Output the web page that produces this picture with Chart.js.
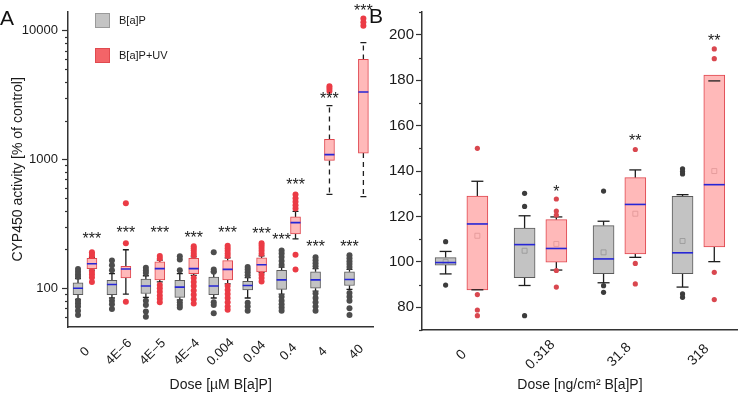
<!DOCTYPE html>
<html><head><meta charset="utf-8">
<script src="https://cdn.jsdelivr.net/npm/chart.js@4.4.1/dist/chart.umd.min.js"></script>
<style>
html,body{margin:0;padding:0;background:#fff;}
#wrap{position:relative;width:750px;height:395px;overflow:hidden;font-family:"Liberation Sans",Arial,sans-serif;}
#ca{position:absolute;left:0;top:0;width:380px;height:395px;}
#cb{position:absolute;left:378px;top:0;width:372px;height:395px;}
.lt{position:absolute;font-size:21px;color:#111;line-height:1;}
</style></head>
<body><div id="wrap">
<div id="ca"><canvas id="chartA"></canvas></div>
<div id="cb"><canvas id="chartB"></canvas></div>
<div class="lt" style="left:0px;top:7px">A</div>
<div class="lt" style="left:369px;top:5px">B</div>
</div>
<script>
// ---------- Panel A data (log scale) ----------
const catA = ['0','4E\u22126','4E\u22125','4E\u22124','0.004','0.04','0.4','4','40'];
const tickLabelsA = [100, 1000, 10000];
const grayQ1A  = [89, 89, 91, 85, 89, 97, 98, 100, 105];
const grayMedA = [100, 107, 104, 102, 104, 105, 116, 116, 117];
const grayQ3A  = [110, 115, 118, 115, 122, 113, 138, 134, 134];
const grayLoA  = [82, 84, 85, 81, 84, 84, 90, 95, 98];
const grayHiA  = [119, 130, 125, 130, 134, 121, 146, 142, 140];
const grayOutA = [
  [123,128,134,141,80,76,72,67,62],
  [138,151,164,80,75,69],
  [131,137,144,80,74,66,60],
  [138,167,177,78,74,71],
  [134,140,190,78,74,64],
  [126,133,140,146,77,72,67],
  [152,163,175,186,196,86,80,75,71,67],
  [148,156,165,174,91,84,78,72,67],
  [146,154,162,171,180,92,86,80,70,62]
];
const redQ1A  = [142, 120, 116, 130, 116, 134, 264, 983, 1120];
const redMedA = [155, 141, 142, 142, 140, 152, 323, 1090, 3340];
const redQ3A  = [171, 148, 160, 171, 164, 172, 358, 1430, 5980];
const redLoA  = [138, 90, 112, 126, 108, 132, 242, 536, 515];
const redHiA  = [174, 199, 165, 175, 172, 178, 395, 2620, 8080];
const redOutA = [
  [178,184,190,134,128,121,112],
  [223,457,78.5],
  [170,178,106,100,94,88,83,78],
  [180,188,196,204,212,120,112,104,96,89,82,76],
  [178,186,195,204,214,104,97,90,84,78,72,68],
  [185,195,205,215,223,127,120,113],
  [415,440,470,500,535,182,140],
  [3400,3550,3700],
  [10900,11600,12400]
];
const starGrayA = [null,null,null,null,null,null,230,203,203];
const starRedA  = [233,259,259,238,259,255,616,2820,13600];

// ---------- Panel B data (linear) ----------
const catB = ['0','0.318','31.8','318'];
const tickLabelsB = [80,100,120,140,160,180,200];
const grayQ1B   = [98.6, 93.1, 94.8, 94.8];
const grayMedB  = [99.7, 107.6, 101.3, 104.0];
const grayQ3B   = [101.9, 114.9, 116.0, 128.9];
const grayMeanB = [100.0, 104.9, 104.2, 109.2];
const grayLoB   = [94.7, 89.6, 90.8, 88.9];
const grayHiB   = [104.6, 120.3, 117.9, 129.6];
const grayOutB  = [[108.9,89.8],[130.2,124.4,76.3],[131.2,89.5,86.6],[141.0,139.8,138.7,85.9,84.4]];
const redQ1B    = [87.7, 99.9, 103.5, 106.6];
const redMedB   = [116.7, 105.9, 125.3, 134.0];
const redQ3B    = [129.0, 118.6, 137.1, 182.3];
const redMeanB  = [111.5, 107.9, 121.2, 140.0];
const redLoB    = [87.7, 96.4, 102.0, 100.1];
const redHiB    = [135.5, 119.8, 140.5, 179.7];
const redOutB   = [[150.0,85.6,78.8,76.3],[127.7,122.4,120.6,96.2,88.9],[149.5,99.3,90.3],[193.8,189.5,95.4,83.4]];
const starRedB  = [null,129.9,152.2,196.4];
const starTextB = ['','*','**','**'];

// ---------- helpers ----------
const FF = '"Liberation Sans", Arial, sans-serif';
const INK = '#1a1a1a';
const MED = '#2626d6';

function groupSets(s, sign, st) {
  const xi = i => i + sign * st.off;
  const sets = [];
  sets.push({type:'bar', label:s.label, xAxisID:'xs', grouped:false, barThickness:st.barW,
    data:s.q1.map((v,i)=>({x:xi(i), y:[v, s.q3[i]]})),
    backgroundColor:s.fill, borderColor:s.edge, borderWidth:1, borderSkipped:false,
    order:5, legendColor:s.legend, legendEdge:s.legendEdge});
  const solid = [], dashed = [];
  s.q1.forEach((v,i)=>{
    const arr = (s.dashed && s.dashed.includes(i)) ? dashed : solid;
    arr.push({x:xi(i),y:s.q3[i]},{x:xi(i),y:s.hi[i]},{x:xi(i),y:null},
             {x:xi(i),y:v},{x:xi(i),y:s.lo[i]},{x:xi(i),y:null});
  });
  sets.push({type:'line', xAxisID:'xs', data:solid, borderColor:'#1e1e1e', borderWidth:st.whW,
    pointRadius:0, spanGaps:false, fill:false, order:6});
  if (dashed.length) sets.push({type:'line', xAxisID:'xs', data:dashed, borderColor:'#1e1e1e', borderWidth:st.whW,
    borderDash:[5,4], pointRadius:0, spanGaps:false, fill:false, order:6});
  sets.push({type:'scatter', xAxisID:'xs',
    data:s.lo.flatMap((v,i)=>[{x:xi(i),y:v},{x:xi(i),y:s.hi[i]}]),
    pointStyle:'line', pointRadius:st.capR, pointBorderColor:'#1e1e1e', pointBorderWidth:st.whW, order:4});
  sets.push({type:'scatter', xAxisID:'xs',
    data:s.out.flatMap((a,i)=>a.map(v=>({x:xi(i),y:v}))),
    pointStyle:'circle', pointRadius:st.outR, pointBackgroundColor:s.dot, pointBorderColor:s.dot, pointBorderWidth:0, order:3});
  if (s.mean) sets.push({type:'scatter', xAxisID:'xs',
    data:s.mean.map((v,i)=>({x:xi(i),y:v})),
    pointStyle:'rect', pointRadius:3.5, pointBackgroundColor:'rgba(0,0,0,0)', pointBorderColor:s.meanCol, pointBorderWidth:0.9, order:2});
  sets.push({type:'scatter', xAxisID:'xs',
    data:s.med.map((v,i)=>({x:xi(i),y:v})),
    pointStyle:'line', pointRadius:st.medR, pointBorderColor:MED, pointBorderWidth:1.6, order:1});
  return sets;
}

const decor = {
  id:'decor',
  afterDraw(chart, args, o) {
    const ctx = chart.ctx, xs = chart.scales.xs, y = chart.scales.y;
    ctx.save();
    // minor ticks
    ctx.strokeStyle = '#333'; ctx.lineWidth = 1.2;
    y.ticks.forEach(t=>{
      if (o.majors.includes(t.value)) return;
      const py = Math.round(y.getPixelForValue(t.value)) + 0.5;
      ctx.beginPath(); ctx.moveTo(chart.chartArea.left - o.minorLen, py); ctx.lineTo(chart.chartArea.left, py); ctx.stroke();
    });
    // rotated category labels
    ctx.fillStyle = INK; ctx.font = o.labelFont; ctx.textAlign = 'center'; ctx.textBaseline = 'middle';
    chart.data.labels.forEach((lab,i)=>{
      const px = xs.getPixelForValue(i);
      ctx.save(); ctx.translate(px, chart.chartArea.bottom + o.labelDy); ctx.rotate(-Math.PI/4);
      ctx.fillText(lab, 0, 0); ctx.restore();
    });
    // significance stars
    ctx.font = o.starFont; ctx.textBaseline = 'alphabetic'; ctx.fillStyle = '#222';
    o.stars.forEach(s=>s.vals.forEach((v,i)=>{
      if (v == null) return;
      const txt = s.text ? s.text[i] : '***';
      ctx.fillText(txt, xs.getPixelForValue(i + s.off), y.getPixelForValue(v) + o.starDy);
    }));
    // legend
    if (o.legend) {
      const bars = chart.data.datasets.filter(d=>d.type==='bar');
      bars.forEach((d,k)=>{
        const bx = o.legend.x, by = o.legend.y + k*o.legend.gap;
        ctx.fillStyle = d.legendColor; ctx.fillRect(bx, by, 15, 15);
        ctx.strokeStyle = d.legendEdge; ctx.lineWidth = 1; ctx.strokeRect(bx+0.5, by+0.5, 14, 14);
        ctx.fillStyle = INK; ctx.font = o.legend.font; ctx.textAlign = 'left'; ctx.textBaseline = 'middle';
        ctx.fillText(d.label, bx + 24, by + 8);
      });
    }
    ctx.restore();
  }
};

// ---------- Chart A ----------
const offA = 0.205;
const stA = {off:offA, barW:10, whW:1.3, capR:3, outR:3, medR:5};
const grayA = {label:'B[a]P', q1:grayQ1A, med:grayMedA, q3:grayQ3A, lo:grayLoA, hi:grayHiA, out:grayOutA,
  fill:'#c3c3c3', edge:'#5a5a5a', dot:'#4d4d4d', legend:'#c4c4c4', legendEdge:'#9a9a9a'};
const redA = {label:'B[a]P+UV', q1:redQ1A, med:redMedA, q3:redQ3A, lo:redLoA, hi:redHiA, out:redOutA,
  fill:'#ffb9b9', edge:'#e0474f', dot:'#eb3b45', legend:'#f36468', legendEdge:'#e04a4f', dashed:[7,8]};
const minorA = [];
[10,100,1000].forEach(d=>{ for (let k=1;k<=9;k++){ const v=k*d; if (v>50 && v<14000) minorA.push(v);} });
minorA.push(10000);

new Chart(document.getElementById('chartA'), {
  type:'bar',
  data:{labels:catA, datasets:[...groupSets(grayA,-1,stA), ...groupSets(redA,1,stA)]},
  plugins:[decor],
  options:{
    responsive:true, maintainAspectRatio:false, animation:false, events:[],
    layout:{padding:{top:2,right:4,left:0,bottom:0}},
    plugins:{legend:{display:false}, tooltip:{enabled:false},
      decor:{majors:tickLabelsA, minorLen:3, labelFont:'13px '+FF, labelDy:25, starFont:'16px '+FF, starDy:3,
        stars:[{vals:starGrayA, off:-offA},{vals:starRedA, off:offA}],
        legend:{x:95, y:13, gap:35, font:'11px '+FF}}},
    scales:{
      x:{type:'category', offset:true, grid:{display:true, drawOnChartArea:false, drawTicks:false},
        border:{display:true, color:'#333', width:1.5}, ticks:{display:false},
        title:{display:true, text:'Dose [\u00b5M B[a]P]', color:INK, font:{size:14, family:FF}, padding:{top:0, bottom:1}},
        afterFit(s){ s.height = 68; }},
      xs:{type:'linear', display:false, offset:false, grid:{offset:false}, min:-0.5, max:catA.length-0.5},
      y:{type:'logarithmic', min:50, max:14000,
        afterBuildTicks(s){ s.ticks = minorA.map(v=>({value:v})); },
        ticks:{autoSkip:false, padding:4, color:INK, font:{size:13, family:FF},
          callback:(v)=> tickLabelsA.includes(v) ? String(v) : ''},
        grid:{drawOnChartArea:false, tickLength:6, tickWidth:1.2,
          tickColor:(c)=> (c.tick && tickLabelsA.includes(c.tick.value)) ? '#333' : 'rgba(0,0,0,0)'},
        border:{display:true, color:'#333', width:1.5},
        title:{display:true, text:'CYP450 activity [% of control]', color:INK, font:{size:14, family:FF}, padding:{top:10, bottom:0}},
        afterFit(s){ s.width = 68; }}
    }
  }
});

// ---------- Chart B ----------
const offB = 0.201;
const stB = {off:offB, barW:21, whW:1.3, capR:6, outR:2.6, medR:10.5};
const grayB = {label:'B[a]P', q1:grayQ1B, med:grayMedB, q3:grayQ3B, lo:grayLoB, hi:grayHiB, out:grayOutB, mean:grayMeanB,
  fill:'#c3c3c3', edge:'#5a5a5a', dot:'#3c3c3c', meanCol:'#9a9a9a'};
const redB = {label:'B[a]P+UV', q1:redQ1B, med:redMedB, q3:redQ3B, lo:redLoB, hi:redHiB, out:redOutB, mean:redMeanB,
  fill:'#ffb9b9', edge:'#e0474f', dot:'#d9474f', meanCol:'#e39a9a'};
const minorB = [];
for (let v=70; v<=210; v+=10) minorB.push(v);

new Chart(document.getElementById('chartB'), {
  type:'bar',
  data:{labels:catB, datasets:[...groupSets(grayB,-1,stB), ...groupSets(redB,1,stB)]},
  plugins:[decor],
  options:{
    responsive:true, maintainAspectRatio:false, animation:false, events:[],
    layout:{padding:{top:6,right:1,left:0,bottom:0}},
    plugins:{legend:{display:false}, tooltip:{enabled:false},
      decor:{majors:tickLabelsB, minorLen:3, labelFont:'14px '+FF, labelDy:25, starFont:'16px '+FF, starDy:3,
        stars:[{vals:starRedB, text:starTextB, off:offB}]}},
    scales:{
      x:{type:'category', offset:true, grid:{display:true, drawOnChartArea:false, drawTicks:false},
        border:{display:true, color:'#333', width:1.5}, ticks:{display:false},
        title:{display:true, text:'Dose [ng/cm\u00b2 B[a]P]', color:INK, font:{size:14, family:FF}, padding:{top:0, bottom:1}},
        afterFit(s){ s.height = 65; }},
      xs:{type:'linear', display:false, offset:false, grid:{offset:false}, min:-0.5, max:catB.length-0.5},
      y:{type:'linear', min:70, max:210,
        afterBuildTicks(s){ s.ticks = minorB.map(v=>({value:v})); },
        ticks:{autoSkip:false, padding:2, color:INK, font:{size:15, family:FF},
          callback:(v)=> tickLabelsB.includes(v) ? String(v) : ''},
        grid:{drawOnChartArea:false, tickLength:6, tickWidth:1.2,
          tickColor:(c)=> (c.tick && tickLabelsB.includes(c.tick.value)) ? '#333' : 'rgba(0,0,0,0)'},
        border:{display:true, color:'#333', width:1.5},
        afterFit(s){ s.width = 44; }}
    }
  }
});
</script>
</body></html>
